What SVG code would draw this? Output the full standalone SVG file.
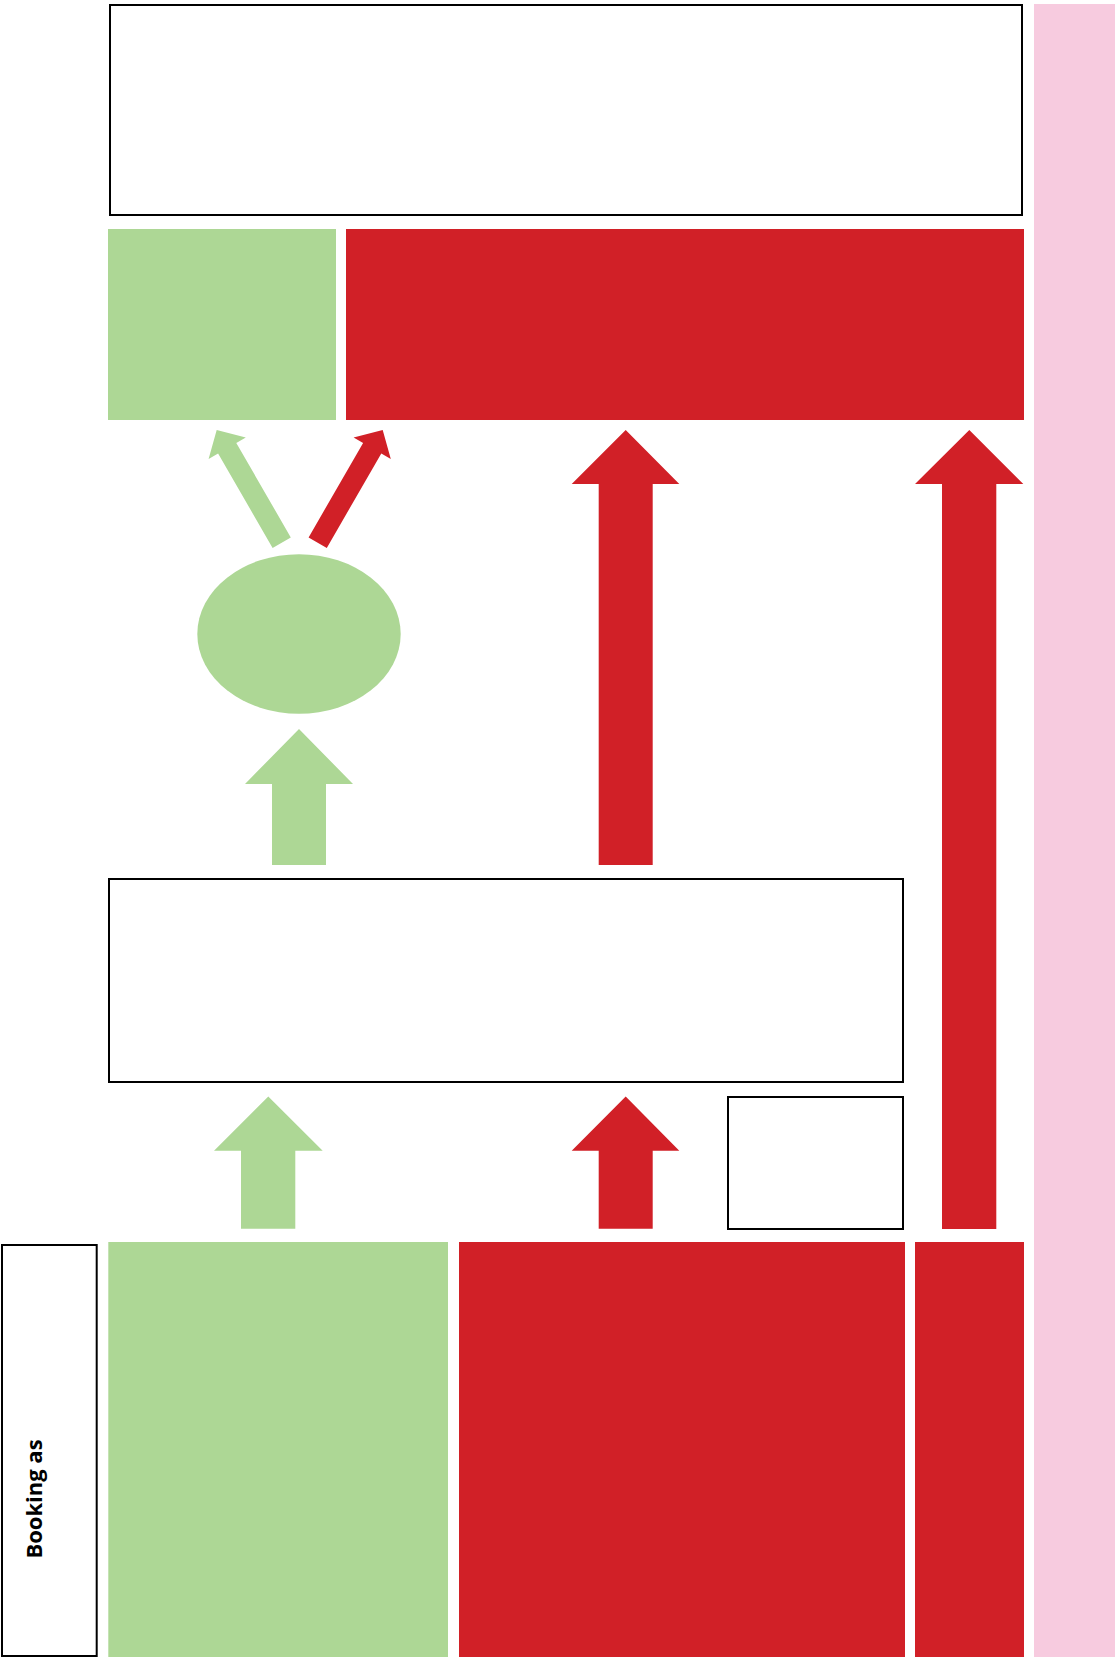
<svg xmlns="http://www.w3.org/2000/svg" width="1115" height="1657" viewBox="0 0 1115 1657">
<style>
.box{fill:#ffffff;stroke:#000000;stroke-width:2}
.green{fill:#ADD795}
.red{fill:#D12027}
.pink{fill:#F7CBDF}
.label{font-family:"Open Sans","Liberation Sans",sans-serif;font-weight:bold;font-size:22px;fill:#000000}
</style>
<rect width="1115" height="1657" fill="#ffffff"/>
<g id="side-band"><rect class="pink" x="1034" y="4" width="81" height="1653"/></g>
<g id="top-box"><rect class="box" x="110" y="5" width="912" height="210"/></g>
<g id="top-green"><rect class="green" x="108" y="229" width="228" height="191"/></g>
<g id="top-red"><rect class="red" x="346" y="229" width="678" height="191"/></g>
<g id="ellipse-node"><ellipse class="green" cx="299" cy="634" rx="101.7" ry="79.7"/></g>
<g id="middle-box"><rect class="box" x="109" y="879" width="794" height="203"/></g>
<g id="small-box"><rect class="box" x="728" y="1097" width="175" height="132"/></g>
<g id="label-box"><rect class="box" x="2" y="1245" width="94.7" height="411"/>
<text class="label" transform="translate(42,1499) rotate(-90)" text-anchor="middle">Booking as</text></g>
<g id="bottom-green"><rect class="green" x="108.3" y="1242" width="339.7" height="415"/></g>
<g id="bottom-red"><rect class="red" x="459" y="1242" width="446" height="415"/></g>
<g id="bottom-red-2"><rect class="red" x="915" y="1242" width="109" height="415"/></g>
<g id="connectors">
<polygon class="green" points="216.7,430 245.8,437.4 236.3,443 290.8,537.4 272.6,547.9 218.1,453.5 208.6,459"/>
<polygon class="red" points="382.7,430 353.6,437.4 363.1,443 308.6,537.4 326.8,547.9 381.3,453.5 390.8,459"/>
<polygon class="green" points="299,729 353,784 326,784 326,865 272,865 272,784 245,784"/>
<polygon class="red" points="625.7,430 679.3,484 652.7,484 652.7,865 598.7,865 598.7,484 571.7,484"/>
<polygon class="red" points="969.3,430 1023.3,484 996.3,484 996.3,1229 942,1229 942,484 915,484"/>
<polygon class="green" points="268.3,1096.5 322.7,1150.7 295.3,1150.7 295.3,1228.7 241,1228.7 241,1150.7 214,1150.7"/>
<polygon class="red" points="625.7,1096.5 679.3,1150.7 652.7,1150.7 652.7,1228.7 598.7,1228.7 598.7,1150.7 571.7,1150.7"/>
</g>
</svg>
